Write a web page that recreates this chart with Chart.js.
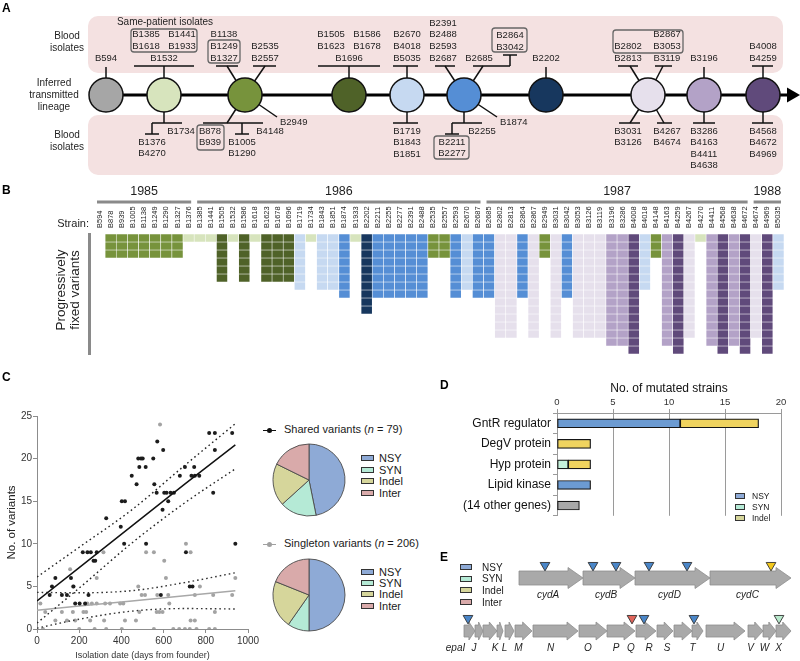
<!DOCTYPE html>
<html>
<head>
<meta charset="utf-8">
<title>Transmitted lineage variants</title>
<script src="https://cdn.jsdelivr.net/npm/chart.js@4.4.1/dist/chart.umd.min.js"></script>
<style>
  body { margin: 0; background: #fff; }
  #fig { position: relative; width: 800px; height: 661px; overflow: hidden;
         font-family: "Liberation Sans", Arial, Helvetica, sans-serif; color: #1a1a1a; }
  #fig canvas { position: absolute; }
  .t { position: absolute; white-space: nowrap; line-height: 1; }
  .letter { font-weight: bold; font-size: 12px; color: #000; }
  .key { position: absolute; white-space: nowrap; display: flex; align-items: center; }
  .key .sw { display: inline-block; box-sizing: border-box; border: 1px solid #333; }
  .mark { position: absolute; height: 1.5px; }
  .mark b { position: absolute; left: 4px; top: -1.8px; width: 5px; height: 5px; border-radius: 50%; }
</style>
</head>
<body>
<div id="fig">
  <canvas id="chartA" width="800" height="180" style="left:0px;top:0px"></canvas>
  <canvas id="chartB" width="800" height="188" style="left:0px;top:170px"></canvas>
  <canvas id="chartC" width="262" height="261" style="left:0px;top:400px"></canvas>
  <canvas id="pieShared" width="80" height="80" style="left:269px;top:440px"></canvas>
  <canvas id="pieSingle" width="80" height="80" style="left:269px;top:555px"></canvas>
  <canvas id="chartD" width="360" height="150" style="left:440px;top:375px"></canvas>
  <canvas id="chartE" width="360" height="106" style="left:440px;top:555px"></canvas>

  <div class="t letter" style="left:2px;top:2px">A</div>
  <div class="t letter" style="left:2px;top:184px">B</div>
  <div class="t letter" style="left:2px;top:371px">C</div>
  <div class="t letter" style="left:440px;top:379px">D</div>
  <div class="t letter" style="left:440px;top:551px">E</div>

  <div class="mark" style="left:263px;top:429.5px;width:13px;background:#111"><b style="background:#111"></b></div>
  <div class="t" style="left:284px;top:424px;font-size:11px">Shared variants (<i>n</i> = 79)</div>
  <div class="mark" style="left:263px;top:543.5px;width:13px;background:#a0a0a0"><b style="background:#a0a0a0"></b></div>
  <div class="t" style="left:284px;top:538px;font-size:11px">Singleton variants (<i>n</i> = 206)</div>
</div>

<script>
Chart.defaults.font.family = '"Liberation Sans", Arial, Helvetica, sans-serif';
Chart.defaults.color = '#222';
const FONT = '"Liberation Sans", Arial, Helvetica, sans-serif';

// ---------- A / B: lineage and strains ----------
const nodeColors = ['#a6a6a6', '#d7e4bd', '#77933c', '#4f6228', '#c6d9f1',
                    '#558ed5', '#17375e', '#e6e0ec', '#b3a2c7', '#604a7b'];
// place of each inferred ancestor along the transmitted lineage (diagram units)
const nodePos = [106, 164, 245, 349, 407, 464, 546, 648, 704, 763];

const strains = ['B594','B878','B939','B1005','B1138','B1249','B1290','B1327','B1376',
  'B1385','B1441','B1505','B1532','B1586','B1618','B1623','B1678','B1696','B1719','B1734',
  'B1843','B1851','B1874','B1933','B2202','B2211','B2255','B2277','B2391','B2488','B2535',
  'B2557','B2593','B2670','B2687',
  'B2685','B2802','B2813','B2864','B2867','B2949','B3031','B3042','B3053','B3126','B3119',
  'B3196','B3286','B4008','B4018','B4148','B4163','B4259','B4267','B4270','B4411','B4568',
  'B4638','B4672',
  'B4674','B4969','B5035'];
const strainNode = [0,2,2,2,2,2,2,2,1,
  1,1,3,1,3,1,3,3,3,4,1,4,4,5,1,6,5,5,5,5,5,2,2,5,4,5,
  5,7,7,5,7,2,7,5,7,7,7,8,8,9,4,2,8,9,7,1,8,9,8,9,
  7,9,4];
const strainFixed = [0,3,3,3,3,3,3,3,1,
  1,1,6,1,6,1,6,6,6,7,1,7,7,8,1,10,8,8,8,8,8,3,3,8,7,8,
  8,13,13,8,13,3,13,8,13,13,13,14,14,15,7,3,14,15,13,1,14,15,14,15,
  13,15,7];
const years = ['1985', '1986', '1987', '1988'];
const yearFirst = [0, 9, 35, 59];

// ---------- C: variants against isolation date ----------
const sharedPts = [[60,4],[71,5],[87,6],[118,4],[142,4],[161,6],[173,5],[181,3],[202,3],[228,3],
  [217,9],[239,9],[255,9],[283,9],[244,4],[268,8],[276,8],[328,13],[397,12],[402,15],[417,15],
  [413,10],[449,18],[472,17],[485,19],[480,20],[493,20],[501,20],[515,19],[517,10],[551,20],
  [556,17],[567,16],[570,22],[595,14],[598,21],[603,16],[614,16],[622,15],[633,16],[649,16],
  [587,4],[677,18],[701,19],[706,9],[724,5],[737,5],[732,18],[745,19],[748,18],[769,18],
  [816,23],[843,23],[843,21],[835,16],[925,23],[940,10]];
const singletonPts = [[16,3],[28,0],[39,2],[87,1],[118,2],[142,1],[157,7],[170,5],[170,2],[181,1],
  [200,0],[220,2],[233,2],[239,3],[252,1],[260,3],[273,0],[283,3],[283,6],[315,9],[318,1],
  [323,3],[328,0],[346,3],[394,3],[402,0],[409,3],[417,1],[469,1],[480,5],[485,2],[496,4],
  [512,4],[517,9],[554,9],[554,0],[567,2],[570,4],[580,2],[583,24],[595,2],[603,8],[611,6],
  [622,4],[627,3],[646,0],[674,0],[701,0],[706,10],[724,0],[728,9],[728,1],[748,1],[748,4],
  [756,0],[772,5],[816,0],[835,4],[843,2],[843,0],[925,4],[940,6]];
const fitDays = [0, 200, 450, 700, 940];
const sharedFit = [3.3, 7.2, 12.1, 17.0, 21.6];
const sharedUpper = [6.1, 9.6, 14.0, 19.2, 24.1];
const sharedLower = [0.7, 4.8, 10.1, 14.8, 18.8];
const singleFit = [2.2, 2.7, 3.3, 3.9, 4.5];
const singleUpper = [4.3, 4.25, 4.5, 5.45, 6.6];
const singleLower = [0.1, 1.15, 2.1, 2.4, 2.35];

const pieLabels = ['NSY', 'SYN', 'Indel', 'Inter'];
const sharedMix = [37, 13, 15, 14];
const singletonMix = [103, 20, 44, 39];

// ---------- D: mutated genes ----------
const geneCats = ['GntR regulator', 'DegV protein', 'Hyp protein', 'Lipid kinase', '(14 other genes)'];
const nsyStrains = [11, null, null, 3, null];
const synStrains = [null, null, 1, null, null];
const indelStrains = [7, 3, 2, null, null];
const otherStrains = [null, null, null, null, 2];

// ---------- E: operons ----------
const geneNames = ['cydA','cydB','cydD','cydC',
  'epaI','J','','K','L','M','N','O','P','Q','R','S','T','U','V','W','X'];
const geneStart = [79,143,195,270, 24,35,43,57,65,75,93,139,167,196,217,234,252,266,308,323,336];
const geneEnd   = [143,195,270,351, 35,43,57,63,74,92,138,167,195,216,233,252,263,305,323,336,351];
const geneRow   = [1,1,1,1, 2,2,2,2,2,2,2,2,2,2,2,2,2,2,2,2,2];
const mutPos  = [105,153,176,209,247,331, 28,192,204,254,339];
const mutRow  = [1,1,1,1,1,1, 2,2,2,2,2];
const mutType = ['NSY','NSY','NSY','NSY','NSY','Indel','NSY','Inter','NSY','NSY','SYN'];

// ---------- styles ----------
const pieColors = ['#8eaad6', '#b5ead6', '#d6d69b', '#d9aaaa'];
const markColors = {NSY: '#4a86c8', SYN: '#b8e9cc', Indel: '#f3c81c', Inter: '#e0645a'};
const quiet = {legend: {display: false}, tooltip: {enabled: false}};

// panel A label layout (offsets from the node, px)
const TOP = 66, BOT = 123, LINE_Y = 95, NODE_R = 17;
const groups = [
  {n:0, s:-1, lx:0, bar:null, hang:[{dx:0, lines:['B594']}]},
  {n:1, s:-1, lx:0, bar:[-30,30], hang:[{dx:0, lines:[['B1385','B1441'],['B1618','B1933'],'B1532']}]},
  {n:1, s:1, lx:0, bar:[-12,18], hang:[{dx:-12, stem:true, lines:['B1376','B4270']},{dx:17, lines:['B1734']}]},
  {n:2, s:-1, lx:-18, bar:[-29,-7], hang:[{dx:-21, lines:['B1138','B1249','B1327']}]},
  {n:2, s:-1, lx:20, bar:[8,31], hang:[{dx:20, lines:['B2535','B2557']}]},
  {n:2, s:1, lx:-18, bar:[-42,18], hang:[{dx:-35, lines:['B878','B939']},{dx:-3, stem:true, lines:['B1005','B1290']},{dx:25, lines:['B4148']}]},
  {n:2, s:1, free:[32,22], text:'B2949'},
  {n:3, s:-1, lx:0, bar:[-31,31], hang:[{dx:0, lines:[['B1505','B1586'],['B1623','B1678'],'B1696']}]},
  {n:4, s:-1, lx:0, bar:[-14,11], hang:[{dx:0, lines:['B2670','B4018','B5035']}]},
  {n:4, s:1, lx:0, bar:[-14,11], hang:[{dx:0, lines:['B1719','B1843','B1851']}]},
  {n:5, s:-1, lx:-19, bar:[-29,-9], hang:[{dx:-21, lines:['B2391','B2488','B2593','B2687']}]},
  {n:5, s:-1, lx:19, bar:[9,46], hang:[{dx:15, lines:['B2685']},{dx:46, stem:true, lines:['B2864','B3042']}]},
  {n:5, s:1, lx:0, bar:[-12,18], hang:[{dx:-12, stem:true, lines:['B2211','B2277']},{dx:18, lines:['B2255']}]},
  {n:5, s:1, free:[33,22], text:'B1874'},
  {n:6, s:-1, lx:0, bar:null, hang:[{dx:0, lines:['B2202']}]},
  {n:7, s:-1, lx:-18, bar:[-30,-10], hang:[{dx:-20, lines:['B2802','B2813']}]},
  {n:7, s:-1, lx:15, bar:[7,24], hang:[{dx:19, lines:['B2867','B3053','B3119']}]},
  {n:7, s:1, lx:-18, bar:[-29,-8], hang:[{dx:-20, lines:['B3031','B3126']}]},
  {n:7, s:1, lx:16, bar:[9,24], hang:[{dx:19, lines:['B4267','B4674']}]},
  {n:8, s:-1, lx:0, bar:null, hang:[{dx:0, lines:['B3196']}]},
  {n:8, s:1, lx:0, bar:[-11,11], hang:[{dx:0, lines:['B3286','B4163','B4411','B4638']}]},
  {n:9, s:-1, lx:0, bar:[-11,10], hang:[{dx:0, lines:['B4008','B4259']}]},
  {n:9, s:1, lx:0, bar:[-11,10], hang:[{dx:0, lines:['B4568','B4672','B4969']}]}
];
const boxes = [
  {n:1, x:[-33,33], y:[29,52]}, {n:2, x:[-37,-5], y:[40,63]}, {n:2, x:[-48,-21], y:[125,150]},
  {n:5, x:[28,63], y:[28,52]}, {n:5, x:[-30,5], y:[136,159]}, {n:7, x:[-35,35], y:[30,53]}
];

function line(ctx, x0, y0, x1, y1) {
  ctx.beginPath(); ctx.moveTo(x0, y0); ctx.lineTo(x1, y1); ctx.stroke();
}

const lineagePlugin = {
  id: 'lineage',
  beforeDatasetsDraw(chart) {
    const {ctx} = chart;
    const X = v => chart.scales.x.getPixelForValue(v);
    const Y = v => chart.scales.y.getPixelForValue(v);
    ctx.save();
    ctx.fillStyle = '#f4e1e1';
    [[88, 16, 783, 73], [88, 115, 783, 175]].forEach(b => {
      ctx.beginPath();
      ctx.roundRect(X(b[0]), Y(b[1]), X(b[2]) - X(b[0]), Y(b[3]) - Y(b[1]), 10);
      ctx.fill();
    });
    ctx.strokeStyle = '#000'; ctx.lineWidth = 3;
    line(ctx, X(nodePos[0]), Y(LINE_Y), X(789), Y(LINE_Y));
    ctx.fillStyle = '#000';
    ctx.beginPath();
    ctx.moveTo(X(787), Y(LINE_Y) - 7.5); ctx.lineTo(X(800), Y(LINE_Y)); ctx.lineTo(X(787), Y(LINE_Y) + 7.5);
    ctx.closePath(); ctx.fill();

    ctx.lineWidth = 1.5; ctx.strokeStyle = '#111';
    groups.forEach(g => {
      const cx = X(nodePos[g.n]), cy = Y(LINE_Y);
      const barY = Y(g.s < 0 ? TOP : BOT);
      if (g.free) { line(ctx, cx, cy, cx + g.free[0], cy + g.free[1]); return; }
      const endY = g.bar ? barY : barY - g.s;
      line(ctx, cx, cy, cx + g.lx, endY);
      if (g.bar) line(ctx, cx + g.bar[0], barY, cx + g.bar[1], barY);
      g.hang.forEach(h => {
        if (!h.stem) return;
        const tip = barY + g.s * 11;
        line(ctx, cx + h.dx, barY, cx + h.dx, tip);
        line(ctx, cx + h.dx - 7, tip, cx + h.dx + 7, tip);
      });
    });
    ctx.restore();
  },
  afterDatasetsDraw(chart) {
    const {ctx} = chart;
    const X = v => chart.scales.x.getPixelForValue(v);
    const Y = v => chart.scales.y.getPixelForValue(v);
    ctx.save();
    ctx.fillStyle = '#1e1e1e';
    ctx.textBaseline = 'middle';
    ctx.textAlign = 'center';
    ctx.font = '10px ' + FONT;
    [['Blood', 67, 36], ['isolates', 67, 48], ['Inferred', 54, 83], ['transmitted', 54, 95],
     ['lineage', 54, 107], ['Blood', 67, 135], ['isolates', 67, 147],
     ['Same-patient isolates', 165, 22]].forEach(t => ctx.fillText(t[0], X(t[1]), Y(t[2])));

    ctx.font = '9.5px ' + FONT;
    groups.forEach(g => {
      const cx = X(nodePos[g.n]), cy = Y(LINE_Y);
      if (g.free) {
        ctx.textAlign = 'left';
        ctx.fillText(g.text, cx + g.free[0] + 3, cy + g.free[1] + 5);
        ctx.textAlign = 'center';
        return;
      }
      const barY = Y(g.s < 0 ? TOP : BOT);
      g.hang.forEach(h => {
        const anchor = barY + (h.stem ? g.s * 11 : 0);
        h.lines.forEach((ln, i) => {
          const k = g.s < 0 ? h.lines.length - 1 - i : i;
          const y = anchor + g.s * (8 + k * 11.6);
          if (Array.isArray(ln)) {
            ctx.fillText(ln[0], cx + h.dx - 18, y);
            ctx.fillText(ln[1], cx + h.dx + 18, y);
          } else {
            ctx.fillText(ln, cx + h.dx, y);
          }
        });
      });
    });
    ctx.strokeStyle = '#666'; ctx.lineWidth = 1.3;
    boxes.forEach(b => {
      const cx = X(nodePos[b.n]);
      ctx.beginPath();
      ctx.roundRect(cx + b.x[0], Y(b.y[0]), b.x[1] - b.x[0], Y(b.y[1]) - Y(b.y[0]), 3);
      ctx.stroke();
    });
    ctx.restore();
  }
};

new Chart(document.getElementById('chartA'), {
  type: 'scatter',
  data: {datasets: [{
    data: nodePos.map(x => ({x, y: LINE_Y})),
    pointRadius: NODE_R, pointHoverRadius: NODE_R,
    backgroundColor: nodeColors, borderColor: '#111', borderWidth: 1.5
  }]},
  options: {
    responsive: false, animation: false, events: [],
    layout: {padding: 0, autoPadding: false},
    plugins: quiet,
    scales: {
      x: {type: 'linear', display: false, min: 0, max: 800},
      y: {type: 'linear', display: false, min: 0, max: 180, reverse: true}
    }
  },
  plugins: [lineagePlugin]
});

// ---------- B ----------
const gridDecor = {
  id: 'gridDecor',
  afterDraw(chart) {
    const {ctx, chartArea: a} = chart;
    const xs = chart.scales.x;
    const colW = xs.getPixelForValue(1) - xs.getPixelForValue(0);
    ctx.save();
    ctx.fillStyle = '#1e1e1e';
    ctx.font = '7.5px ' + FONT;
    ctx.textAlign = 'left'; ctx.textBaseline = 'middle';
    strains.forEach((s, i) => {
      ctx.save();
      ctx.translate(xs.getPixelForValue(i), a.top - 6);
      ctx.rotate(-Math.PI / 2);
      ctx.fillText(s, 0, 0);
      ctx.restore();
    });
    ctx.strokeStyle = '#8a8a8a'; ctx.lineWidth = 3;
    ctx.font = '12.5px ' + FONT; ctx.textAlign = 'center';
    years.forEach((yr, k) => {
      const first = yearFirst[k];
      const last = k + 1 < years.length ? yearFirst[k + 1] - 1 : strains.length - 1;
      const x0 = xs.getPixelForValue(first) - colW / 2 + 3;
      const x1 = xs.getPixelForValue(last) + colW / 2 - 3;
      line(ctx, x0, a.top - 32, x1, a.top - 32);
      ctx.fillText(yr, (x0 + x1) / 2, a.top - 42);
    });
    line(ctx, a.left - 4.5, a.top - 1, a.left - 4.5, a.bottom + 1);
    ctx.font = '11px ' + FONT; ctx.textAlign = 'right';
    ctx.fillText('Strain:', a.left - 5, a.top - 10);
    ctx.font = '13.5px ' + FONT; ctx.textAlign = 'center';
    ctx.translate(68, a.top + 56);
    ctx.rotate(-Math.PI / 2);
    ctx.fillText('Progressively', 0, -7);
    ctx.fillText('fixed variants', 0, 7);
    ctx.restore();
  }
};

const maxFixed = Math.max(...strainFixed);
const rowSets = [];
for (let r = 0; r < maxFixed; r++) {
  rowSets.push({
    data: strainFixed.map(c => (c > r ? 1 : null)),
    backgroundColor: strainNode.map(n => nodeColors[n]),
    borderColor: 'rgba(255,255,255,0.95)', borderWidth: 0.6, borderSkipped: false,
    barPercentage: 1, categoryPercentage: 1, stack: 'fixed'
  });
}
new Chart(document.getElementById('chartB'), {
  type: 'bar',
  data: {labels: strains, datasets: rowSets},
  options: {
    responsive: false, animation: false, events: [],
    layout: {padding: {left: 94, right: 16, top: 64, bottom: 4}, autoPadding: false},
    plugins: quiet,
    scales: {
      x: {display: false, stacked: true},
      y: {display: false, stacked: true, min: 0, max: maxFixed, reverse: true}
    }
  },
  plugins: [gridDecor]
});

// ---------- C ----------
const pts = arr => arr.map(p => ({x: p[0], y: p[1]}));
const curve = vals => fitDays.map((x, i) => ({x, y: vals[i]}));
const dotted = (vals, color) => ({
  type: 'line', data: curve(vals), borderColor: color, borderWidth: 1.4,
  borderDash: [1.6, 3], pointRadius: 0, fill: false, cubicInterpolationMode: 'monotone'
});
new Chart(document.getElementById('chartC'), {
  type: 'scatter',
  data: {datasets: [
    {type: 'line', data: curve(sharedFit), borderColor: '#111', borderWidth: 1.5, pointRadius: 0, fill: false},
    dotted(sharedUpper, '#222'),
    dotted(sharedLower, '#222'),
    {data: pts(sharedPts), backgroundColor: '#1c1c1c', pointRadius: 2, pointHoverRadius: 2, borderWidth: 0},
    {type: 'line', data: curve(singleFit), borderColor: '#a8a8a8', borderWidth: 1.5, pointRadius: 0, fill: false},
    dotted(singleUpper, '#333'),
    dotted(singleLower, '#333'),
    {data: pts(singletonPts), backgroundColor: '#a3a3a3', pointRadius: 2, pointHoverRadius: 2, borderWidth: 0}
  ]},
  options: {
    responsive: false, animation: false, events: [],
    layout: {padding: {left: 0, right: 14, top: 16, bottom: 0}, autoPadding: false},
    plugins: quiet,
    scales: {
      x: {
        type: 'linear', min: 0, max: 1000,
        ticks: {stepSize: 200, color: '#333', font: {size: 10}, padding: 2, maxRotation: 0,
                callback: v => String(v)},
        grid: {drawOnChartArea: false, color: '#8c8c8c', tickLength: 4},
        border: {color: '#8c8c8c'},
        title: {display: true, text: 'Isolation date (days from founder)', color: '#333', font: {size: 9}, padding: 0},
        afterFit(s) { s.height = 32; }
      },
      y: {
        type: 'linear', min: 0, max: 25,
        ticks: {stepSize: 5, color: '#333', font: {size: 10}, padding: 1},
        grid: {drawOnChartArea: false, color: '#8c8c8c', tickLength: 4},
        border: {color: '#8c8c8c'},
        title: {display: true, text: 'No. of variants', color: '#222', font: {size: 11.5}, padding: 5},
        afterFit(s) { s.width = 37; }
      }
    }
  }
});

function makePie(id, values) {
  new Chart(document.getElementById(id), {
    type: 'pie',
    data: {labels: pieLabels, datasets: [{
      data: values, backgroundColor: pieColors, borderColor: '#4a4a4a', borderWidth: 0.9,
      radius: 36, hoverOffset: 0
    }]},
    options: {responsive: false, animation: false, events: [], layout: {padding: 0}, plugins: quiet}
  });
}
makePie('pieShared', sharedMix);
makePie('pieSingle', singletonMix);

// ---------- D ----------
const barSet = (label, data, color) => ({label, data, backgroundColor: color});
new Chart(document.getElementById('chartD'), {
  type: 'bar',
  data: {labels: geneCats, datasets: [
    barSet('NSY', nsyStrains, '#6c9bd2'),
    barSet('SYN', synStrains, '#c4f0da'),
    barSet('Indel', indelStrains, '#efd35f'),
    barSet('Other', otherStrains, '#a8a8a8')
  ]},
  options: {
    indexAxis: 'y',
    responsive: false, animation: false, events: [],
    layout: {padding: {left: 0, right: 19, top: 0, bottom: 2}},
    plugins: quiet,
    datasets: {bar: {borderColor: '#151515', borderWidth: 1.2, borderSkipped: false, barThickness: 9}},
    scales: {
      x: {
        position: 'top', stacked: true, min: 0, max: 20,
        ticks: {stepSize: 5, color: '#333', font: {size: 9.5}, padding: 1},
        grid: {color: '#9a9a9a', tickLength: 4},
        border: {color: '#9a9a9a'},
        title: {display: true, text: 'No. of mutated strains', color: '#111', font: {size: 12}, padding: 6},
        afterFit(s) { s.height = 38; }
      },
      y: {
        stacked: true,
        ticks: {color: '#111', font: {size: 12}, padding: 2},
        grid: {drawOnChartArea: false, color: '#9a9a9a', tickLength: 4},
        border: {color: '#9a9a9a'},
        afterFit(s) { s.width = 117; }
      }
    }
  }
});

// ---------- E ----------
const labelNudge = {epaI: -14, Q: -15, R: -16, S: -16};
const operonPlugin = {
  id: 'operons',
  beforeDatasetsDraw(chart) {
    const {ctx} = chart;
    const xs = chart.scales.x, ys = chart.scales.y;
    ctx.save();
    ctx.fillStyle = '#a9a9a9'; ctx.strokeStyle = '#8e8e8e'; ctx.lineWidth = 0.8;
    geneNames.forEach((g, i) => {
      const x0 = xs.getPixelForValue(geneStart[i]), x1 = xs.getPixelForValue(geneEnd[i]);
      const cy = ys.getPixelForValue(geneRow[i]);
      const big = geneRow[i] === 1;
      const b = big ? 7 : 6, h = big ? 10.5 : 9;
      const hl = Math.min(big ? 15 : 11, (x1 - x0) * 0.55);
      ctx.beginPath();
      ctx.moveTo(x0, cy - b); ctx.lineTo(x1 - hl, cy - b); ctx.lineTo(x1 - hl, cy - h);
      ctx.lineTo(x1, cy); ctx.lineTo(x1 - hl, cy + h); ctx.lineTo(x1 - hl, cy + b);
      ctx.lineTo(x0, cy + b); ctx.closePath();
      ctx.fill(); ctx.stroke();
    });
    ctx.fillStyle = '#1e1e1e'; ctx.font = 'italic 10px ' + FONT;
    ctx.textAlign = 'center'; ctx.textBaseline = 'middle';
    geneNames.forEach((g, i) => {
      if (!g) return;
      const mid = (xs.getPixelForValue(geneStart[i]) + xs.getPixelForValue(geneEnd[i])) / 2;
      const nudge = labelNudge[g] !== undefined ? labelNudge[g] : (geneRow[i] === 1 ? -3 : -5);
      ctx.fillText(g, mid + nudge, ys.getPixelForValue(geneRow[i]) + 17);
    });
    ctx.restore();
  }
};
new Chart(document.getElementById('chartE'), {
  type: 'scatter',
  data: {datasets: [{
    data: mutPos.map((x, i) => ({x, y: mutRow[i] - 0.24})),
    pointStyle: 'triangle', rotation: 180, pointRadius: 5.6, pointHoverRadius: 5.6,
    backgroundColor: mutType.map(t => markColors[t]), borderColor: '#333', borderWidth: 0.9
  }]},
  options: {
    responsive: false, animation: false, events: [],
    layout: {padding: 0, autoPadding: false},
    plugins: quiet,
    scales: {
      x: {type: 'linear', display: false, min: 0, max: 360},
      y: {type: 'linear', display: false, min: 0.566, max: 2.566, reverse: true}
    }
  },
  plugins: [operonPlugin]
});

// ---------- keys ----------
function addKey(x, yCenter, step, labels, colors, w, h, gap, fontPx) {
  const fig = document.getElementById('fig');
  labels.forEach((lab, i) => {
    const row = document.createElement('div');
    row.className = 'key';
    row.style.left = x + 'px';
    row.style.top = (yCenter + i * step - fontPx * 0.6) + 'px';
    row.style.height = (fontPx * 1.2) + 'px';
    row.style.fontSize = fontPx + 'px';
    row.innerHTML = '<span class="sw" style="width:' + w + 'px;height:' + h + 'px;background:' +
      colors[i] + ';margin-right:' + gap + 'px"></span>' + lab;
    fig.appendChild(row);
  });
}
addKey(361, 458, 11.6, pieLabels, pieColors, 13, 6, 5, 11);
addKey(361, 572, 11.2, pieLabels, pieColors, 13, 6, 5, 11);
addKey(735, 496, 11, pieLabels.slice(0, 3), pieColors, 10, 6, 7, 8.5);
addKey(460, 567, 11.7, pieLabels, pieColors, 12, 6, 10, 10);
</script>
</body>
</html>
